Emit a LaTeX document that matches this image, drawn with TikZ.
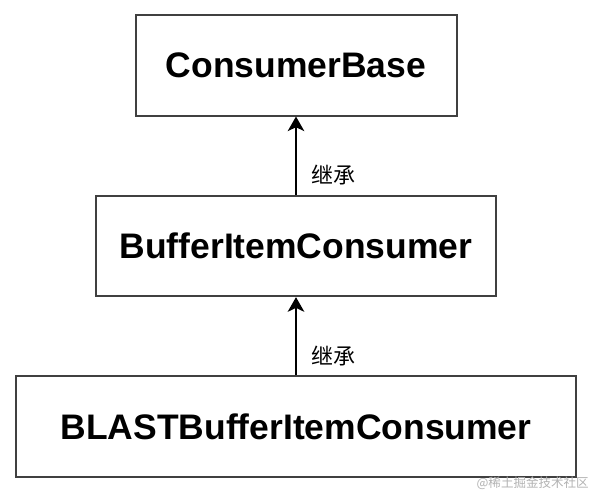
\documentclass[tikz,border=0pt]{standalone}
\usepackage{fontspec}
\setmainfont{Liberation Sans}
\newfontfamily\cjk{Noto Sans CJK SC}
\usetikzlibrary{positioning,arrows.meta}

\tikzset{
  classbox/.style={draw=black!75, line width=1.5pt, inner sep=0pt, minimum height=75.5pt,
    font=\fontsize{26.6}{30}\selectfont\bfseries},
  inherit/.style={-{Stealth[length=11pt,width=12.5pt,inset=3pt]}, line width=1.2pt},
  inheritlabel/.style={font=\cjk\fontsize{16.5}{18}\selectfont, right=8pt, pos=0.25},
  watermark/.style={font=\cjk\fontsize{9.4}{11}\selectfont, text=black!30, inner sep=0pt}
}

\begin{document}
\begin{tikzpicture}[x=0.75pt, y=-0.75pt, node distance=58.5pt]
    % 画面の大きさ
    \useasboundingbox (0,0) rectangle (594,494);

    % クラスの箱（下から順に積む）
    \node[classbox, minimum width=420pt] (blast) at (296,426.5) {BLASTBufferItemConsumer};
    \node[classbox, minimum width=300pt, above=of blast] (buffer) {BufferItemConsumer};
    \node[classbox, minimum width=240.75pt, above=of buffer] (base) {ConsumerBase};

    % 継承の矢印
    \draw[inherit] (blast) -- node[inheritlabel] (lblA) {继承} (buffer);
    \draw[inherit] (buffer) -- node[inheritlabel] (lblB) {继承} (base);

    % 右下の透かし
    \node[watermark, anchor=east] (mark) at (589,483) {@稀土掘金技术社区};
\end{tikzpicture}
\end{document}
